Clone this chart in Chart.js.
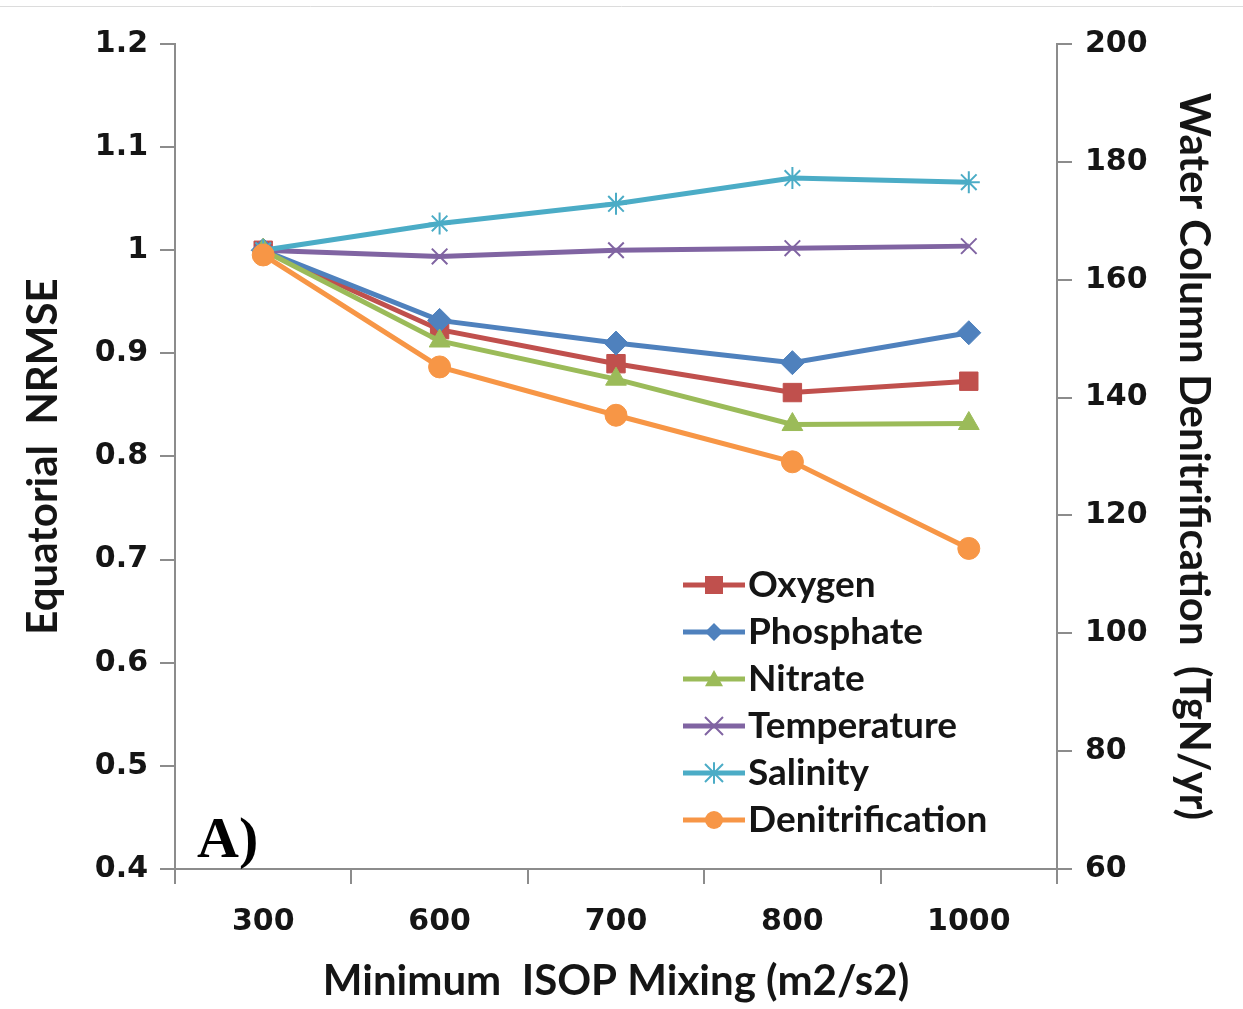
<!DOCTYPE html>
<html>
<head>
<meta charset="utf-8">
<script src="https://cdn.jsdelivr.net/npm/chart.js@4.4.1/dist/chart.umd.min.js"></script>
<style>
  body { margin: 0; background: #fff; }
  canvas { display: block; }
</style>
</head>
<body>
<canvas id="myChart" width="1243" height="1009"></canvas>
<script>
// Данные графика
const categories = ['300', '600', '700', '800', '1000'];
const oxygen = [1.0, 0.923, 0.890, 0.862, 0.873];
const phosphate = [1.0, 0.932, 0.910, 0.891, 0.920];
const nitrate = [1.0, 0.912, 0.875, 0.831, 0.832];
const temperature = [1.0, 0.994, 1.0, 1.002, 1.004];
const salinity = [1.0, 1.026, 1.045, 1.070, 1.066];
const denitrification = [164.2, 145.2, 137.0, 129.1, 114.4];

const tickFont = { family: 'DejaVu Sans', weight: 'bold', size: 30 };
const titleFont = { family: 'Lato', weight: 'bold', size: 42 };
const axisColor = '#8c8c8c';
const textColor = '#151515';

function series(label, data, color, style, radius, axis, order) {
    const thin = style === 'crossRot' || style === 'star';
    return {
        label: label,
        data: data,
        yAxisID: axis,
        borderColor: color,
        backgroundColor: color,
        pointBackgroundColor: color,
        pointBorderColor: color,
        pointStyle: style,
        pointRadius: radius,
        pointBorderWidth: thin ? 2 : 1,
        borderWidth: 5,
        fill: false,
        tension: 0,
        order: order
    };
}

// Рисуем маркер для легенды
function marker(ctx, style, x, y, r, color) {
    ctx.save();
    ctx.fillStyle = color;
    ctx.strokeStyle = color;
    ctx.lineWidth = 2;
    ctx.beginPath();
    if (style === 'rect') {
        ctx.rect(x - r, y - r, 2 * r, 2 * r);
        ctx.fill();
    } else if (style === 'rectRot') {
        ctx.moveTo(x, y - r); ctx.lineTo(x + r, y); ctx.lineTo(x, y + r); ctx.lineTo(x - r, y);
        ctx.closePath(); ctx.fill();
    } else if (style === 'triangle') {
        ctx.moveTo(x, y - r); ctx.lineTo(x + r, y + r * 0.8); ctx.lineTo(x - r, y + r * 0.8);
        ctx.closePath(); ctx.fill();
    } else if (style === 'crossRot' || style === 'star') {
        ctx.moveTo(x - r, y - r); ctx.lineTo(x + r, y + r);
        ctx.moveTo(x - r, y + r); ctx.lineTo(x + r, y - r);
        if (style === 'star') { ctx.moveTo(x, y - r * 1.2); ctx.lineTo(x, y + r * 1.2); }
        ctx.stroke();
    } else {
        ctx.arc(x, y, r, 0, Math.PI * 2);
        ctx.fill();
    }
    ctx.restore();
}

const extras = {
    id: 'extras',
    afterDraw(chart) {
        const ctx = chart.ctx;
        const area = chart.chartArea;
        // тонкая линия сверху
        ctx.save();
        ctx.strokeStyle = '#dcdcdc';
        ctx.lineWidth = 1;
        ctx.beginPath();
        ctx.moveTo(0, 6.5); ctx.lineTo(chart.width, 6.5);
        ctx.stroke();

        // подпись A)
        ctx.fillStyle = '#000';
        ctx.font = 'bold 58px "Liberation Serif"';
        ctx.textBaseline = 'alphabetic';
        ctx.fillText('A)', area.left + 22, area.bottom - 12);

        // легенда внутри области графика
        const x0 = area.left + 508;
        let y = area.bottom - 284;
        ctx.font = 'bold 37px Lato';
        ctx.textBaseline = 'middle';
        chart.data.datasets.forEach(ds => {
            ctx.strokeStyle = ds.borderColor;
            ctx.lineWidth = 5;
            ctx.beginPath();
            ctx.moveTo(x0, y); ctx.lineTo(x0 + 62, y);
            ctx.stroke();
            marker(ctx, ds.pointStyle, x0 + 31, y, 9, ds.borderColor);
            ctx.fillStyle = textColor;
            ctx.fillText(ds.label, x0 + 65, y);
            y += 47;
        });
        ctx.restore();
    }
};

const ctx = document.getElementById('myChart').getContext('2d');
const chart = new Chart(ctx, {
    type: 'line',
    data: {
        labels: categories,
        datasets: [
            series('Oxygen', oxygen, '#C0504D', 'rect', 13, 'y', 5),
            series('Phosphate', phosphate, '#4F81BD', 'rectRot', 12, 'y', 4),
            series('Nitrate', nitrate, '#9BBB59', 'triangle', 12, 'y', 3),
            series('Temperature', temperature, '#8064A2', 'crossRot', 11, 'y', 2),
            series('Salinity', salinity, '#4BACC6', 'star', 11, 'y', 1),
            series('Denitrification', denitrification, '#F79646', 'circle', 11, 'y1', 0)
        ]
    },
    options: {
        responsive: false,
        animation: false,
        layout: { padding: { top: 44, left: 0, right: 0, bottom: 0 } },
        plugins: {
            legend: { display: false },
            tooltip: { enabled: false }
        },
        scales: {
            x: {
                type: 'category',
                offset: true,
                grid: { display: true, offset: true, drawOnChartArea: false, drawTicks: true, tickLength: 15, color: axisColor, lineWidth: 2 },
                border: { display: true, color: axisColor, width: 2 },
                ticks: { color: textColor, font: tickFont, padding: 20, maxRotation: 0 },
                title: { display: true, text: 'Minimum  ISOP Mixing (m2/s2)', color: textColor, font: titleFont, padding: { top: 0, bottom: 2 } },
                afterFit(scale) { scale.height = 140; }
            },
            y: {
                position: 'left',
                min: 0.4,
                max: 1.2,
                grid: { display: true, drawOnChartArea: false, drawTicks: true, tickLength: 15, color: axisColor, lineWidth: 2 },
                border: { display: true, color: axisColor, width: 2 },
                ticks: {
                    stepSize: 0.1,
                    color: textColor,
                    font: tickFont,
                    padding: 12,
                    callback: v => String(+v.toFixed(1))
                },
                title: { display: true, text: 'Equatorial  NRMSE', color: textColor, font: titleFont, padding: { top: 18, bottom: 0 } },
                afterFit(scale) { scale.width = 175; }
            },
            y1: {
                position: 'right',
                min: 60,
                max: 200,
                grid: { display: true, drawOnChartArea: false, drawTicks: true, tickLength: 15, color: axisColor, lineWidth: 2 },
                border: { display: true, color: axisColor, width: 2 },
                ticks: { stepSize: 20, color: textColor, font: tickFont, padding: 13 },
                title: { display: true, text: 'Water Column Denitrification  (TgN/yr)', color: textColor, font: titleFont, padding: { top: 24, bottom: 0 } },
                afterFit(scale) { scale.width = 186; }
            }
        }
    },
    plugins: [extras]
});
</script>
</body>
</html>
